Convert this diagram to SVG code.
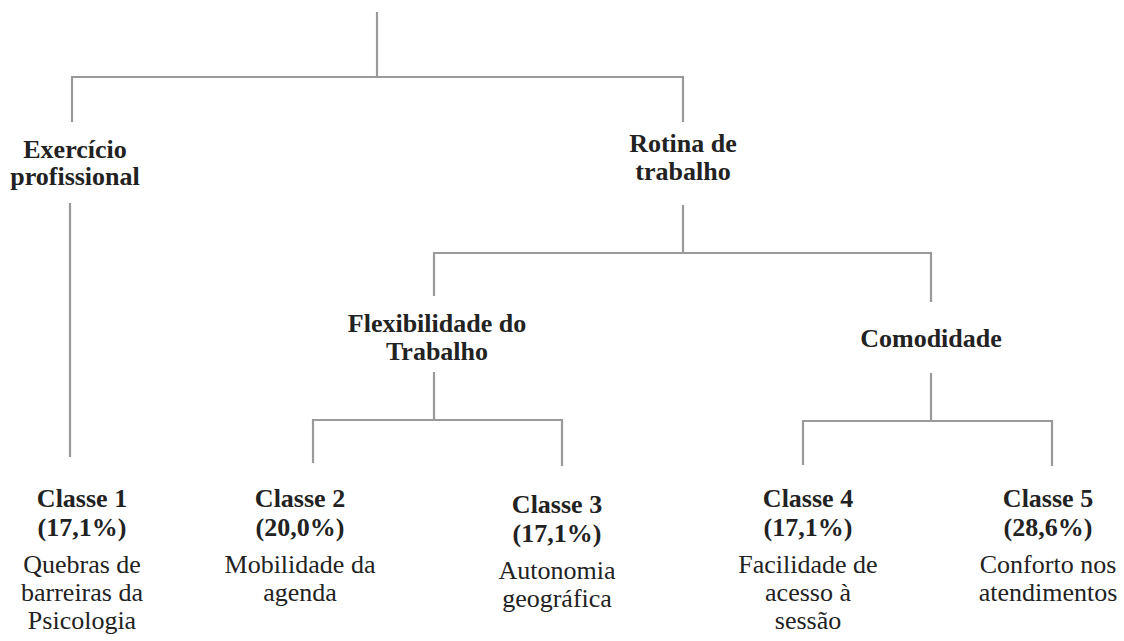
<svg xmlns="http://www.w3.org/2000/svg" width="1124" height="641" viewBox="0 0 1124 641">
<style>
.ln{stroke:#9a9a9a;stroke-width:2.2;fill:none}
text{font-family:"Liberation Serif","Times New Roman",serif;font-size:26px;fill:#222;text-anchor:middle}
.b{font-weight:bold}
</style>
<rect width="1124" height="641" fill="#fff"/>
<g id="connectors">
<path class="ln" d="M377,12 V77 M72,122 V77 H683 V122"/>
<path class="ln" d="M70,203 V457"/>
<path class="ln" d="M683,205 V253 M434,296 V253 H931 V302"/>
<path class="ln" d="M434,372 V420 M313,463 V420 H562 V466"/>
<path class="ln" d="M931,373 V421 M803,465 V421 H1052 V466"/>
</g>
<g id="exercicio"><text class="b" x="75" y="158">Exercício</text><text class="b" x="75" y="185">profissional</text></g>
<g id="rotina"><text class="b" x="683" y="152">Rotina de</text><text class="b" x="683" y="180">trabalho</text></g>
<g id="flexibilidade"><text class="b" x="437" y="332">Flexibilidade do</text><text class="b" x="437" y="360">Trabalho</text></g>
<g id="comodidade"><text class="b" x="931" y="347">Comodidade</text></g>
<g id="classe1"><text class="b" x="82" y="507">Classe 1</text><text class="b" x="82" y="536">(17,1%)</text><text x="82" y="573">Quebras de</text><text x="82" y="601">barreiras da</text><text x="82" y="629">Psicologia</text></g>
<g id="classe2"><text class="b" x="300" y="507">Classe 2</text><text class="b" x="300" y="536">(20,0%)</text><text x="300" y="573">Mobilidade da</text><text x="300" y="601">agenda</text></g>
<g id="classe3"><text class="b" x="557" y="513">Classe 3</text><text class="b" x="557" y="542">(17,1%)</text><text x="557" y="579">Autonomia</text><text x="557" y="607">geográfica</text></g>
<g id="classe4"><text class="b" x="808" y="507">Classe 4</text><text class="b" x="808" y="536">(17,1%)</text><text x="808" y="573">Facilidade de</text><text x="808" y="601">acesso à</text><text x="808" y="629">sessão</text></g>
<g id="classe5"><text class="b" x="1048" y="507">Classe 5</text><text class="b" x="1048" y="536">(28,6%)</text><text x="1048" y="573">Conforto nos</text><text x="1048" y="601">atendimentos</text></g>
</svg>
